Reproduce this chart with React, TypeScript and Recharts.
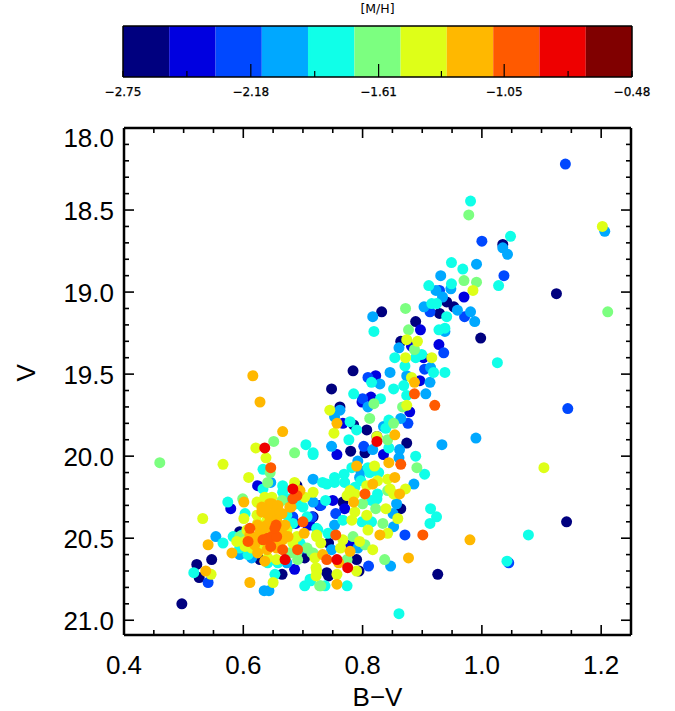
import React from 'react';
import { BarChart, Bar, Cell, ReferenceArea, ReferenceLine, ScatterChart, Scatter, XAxis, YAxis } from 'recharts';

// colour bar
const mhColors = ['#00007f', '#0000e0', '#0048ff', '#00a8ff', '#10ffe8', '#7cff80', '#deff18', '#ffb800', '#ff5a00', '#ee0000', '#800000'];
const mhEdges = [-2.75, -2.544, -2.337, -2.131, -1.925, -1.718, -1.512, -1.306, -1.099, -0.893, -0.686, -0.48];
const mhCentres = [-2.647, -2.441, -2.234, -2.028, -1.821, -1.615, -1.409, -1.202, -0.996, -0.789, -0.583];
const mhTicks = [-2.75, -2.465, -2.18, -1.895, -1.61, -1.33, -1.05, -0.765, -0.48];
const mhLabelled = [-2.75, -2.18, -1.61, -1.05, -0.48];

// axes
const bvTicks = [0.4, 0.45, 0.5, 0.55, 0.6, 0.65, 0.7, 0.75, 0.8, 0.85, 0.9, 0.95, 1.0, 1.05, 1.1, 1.15, 1.2, 1.25];
const bvLabelled = [0.4, 0.6, 0.8, 1.0, 1.2];
const vTicks = [18, 18.1, 18.2, 18.3, 18.4, 18.5, 18.6, 18.7, 18.8, 18.9, 19, 19.1, 19.2, 19.3, 19.4, 19.5, 19.6, 19.7, 19.8, 19.9, 20, 20.1, 20.2, 20.3, 20.4, 20.5, 20.6, 20.7, 20.8, 20.9, 21, 21.09];
const vLabelled = [18, 18.5, 19, 19.5, 20, 20.5, 21];

// stars by [M/H] bin, [B-V, V]
const bin0 = [[1.035,18.71],[1.125,19.01],[.941,19.06],[.953,19.09],[.929,19.13],[.998,19.28],[.832,19.12],[.889,19.18],[.864,19.30],[.784,19.48],[.748,19.59],[.762,19.70],[.785,19.81],[.807,19.84],[.874,19.92],[.78,19.97],[.804,19.98],[.767,20.28],[.864,20.32],[.717,20.37],[.743,20.53],[.79,20.63],[.794,20.70],[.74,20.71],[.743,20.73],[.926,20.72],[1.142,20.40],[.69,20.18],[.547,20.63],[.522,20.66],[.526,20.74],[.497,20.90],[.665,20.72],[.594,20.46],[.628,20.63],[.703,20.62]];
const bin1 = [[.97,19.03],[.897,19.23],[.928,19.32],[.882,19.33],[.902,19.40],[.896,19.54],[.822,19.51],[.799,19.67],[.814,19.64],[.879,19.73],[.767,19.80],[.824,19.88],[.757,19.99],[.835,19.99],[.75,20.27],[.712,20.42],[.77,20.32],[.78,20.54],[.624,20.18],[.728,20.30],[.579,20.32],[.708,20.42],[.686,20.69],[.688,20.41]];
const bin2 = [[1.14,18.22],[1.0,18.69],[1.037,18.90],[.929,18.99],[.913,19.12],[.971,19.15],[.936,19.37],[.904,19.47],[.809,19.52],[.8,19.65],[.876,19.80],[.802,19.94],[1.144,19.71],[1.045,20.65],[.73,20.30],[.755,20.35],[.871,20.48],[.81,20.67],[.541,20.77],[.683,20.37],[.715,20.37]];
const bin3 = [[1.035,18.73],[1.043,18.77],[1.206,18.63],[.991,18.83],[.931,18.90],[.948,18.98],[.923,18.99],[.934,19.03],[.903,19.09],[.959,19.11],[.981,19.12],[.988,19.18],[.938,19.24],[.817,19.15],[.861,19.34],[.914,19.46],[.846,19.49],[.874,19.51],[.913,19.55],[.829,19.56],[.906,19.62],[.809,19.70],[.762,19.72],[.753,19.76],[.835,19.82],[.864,19.77],[.748,19.94],[.862,19.96],[.817,19.96],[.792,20.03],[.861,20.01],[.797,20.09],[.795,20.13],[.717,20.14],[.933,19.93],[.99,19.89],[.886,20.17],[.717,20.28],[.857,20.29],[.851,20.35],[.852,20.43],[.753,20.42],[.792,20.56],[.748,20.57],[.847,20.67],[.646,20.16],[.554,20.49],[.635,20.82],[.643,20.82],[.594,20.60],[.614,20.62],[.673,20.65],[.703,20.56]];
const bin4 = [[.981,18.445],[1.048,18.66],[.949,18.82],[.968,18.86],[1.028,18.96],[.911,18.96],[.949,18.95],[.916,19.07],[.924,19.07],[.941,19.15],[1.026,19.43],[.819,19.24],[.928,19.23],[.938,19.22],[.854,19.40],[.889,19.40],[.899,19.38],[.871,19.45],[.919,19.49],[.938,19.49],[.815,19.55],[.869,19.57],[.852,19.59],[.785,19.62],[.874,19.63],[.83,19.65],[.779,19.79],[.844,19.78],[.839,19.83],[.79,19.84],[.777,19.90],[.844,19.95],[.889,20.0],[.717,19.99],[.809,20.07],[.827,20.10],[.782,20.07],[.769,20.11],[.753,20.13],[.904,20.11],[.733,20.16],[.74,20.17],[.753,20.16],[.77,20.16],[.738,20.27],[.797,20.15],[.787,20.19],[.812,20.10],[.825,20.23],[.824,20.26],[.815,20.27],[.767,20.39],[.799,20.40],[.815,20.40],[.725,20.45],[.742,20.47],[.913,20.41],[.914,20.32],[.924,20.37],[.713,20.76],[.737,20.79],[.774,20.79],[.861,20.96],[1.078,20.48],[1.042,20.64],[.705,19.93],[.717,19.98],[.633,20.08],[.633,20.20],[.666,20.18],[.666,20.22],[.70,20.31],[.723,20.44],[.574,20.28],[.603,20.35],[.566,20.53],[.517,20.71],[.653,20.72],[.703,20.79],[.712,20.75],[.583,20.49],[.598,20.48],[.594,20.56],[.608,20.60],[.641,20.65],[.658,20.65],[.678,20.59],[.695,20.53],[.683,20.41],[.673,20.36],[.707,20.37],[.69,20.29],[.678,20.26]];
const bin5 = [[.978,18.53],[.97,18.93],[.991,18.94],[1.211,19.12],[.872,19.10],[.877,19.23],[.887,19.35],[.819,19.68],[.867,19.70],[.812,19.77],[.852,19.80],[.842,19.90],[.891,20.07],[.842,20.21],[.80,20.29],[.822,20.32],[.834,20.41],[.784,20.49],[.804,20.54],[.715,20.59],[.837,20.63],[.774,20.63],[.73,20.79],[.46,20.04],[.651,19.91],[.686,19.98],[.645,20.10],[.641,20.16],[.599,20.26],[.728,20.79],[.691,20.63],[.678,20.59],[.69,20.59],[.673,20.45],[.707,20.56],[.717,20.59],[.665,20.27],[.594,20.49]];
const bin6 = [[1.202,18.60],[.985,18.99],[.874,19.29],[.892,19.30],[.872,19.40],[.916,19.40],[.882,19.52],[.874,19.69],[.745,19.72],[.824,19.88],[.752,19.86],[.820,20.06],[.825,20.15],[.842,20.14],[1.104,20.07],[.717,20.22],[.807,20.18],[.872,20.20],[.846,20.20],[.852,20.23],[.779,20.21],[.774,20.24],[.787,20.23],[.839,20.32],[.859,20.38],[.807,20.36],[.787,20.34],[.782,20.39],[.809,20.45],[.723,20.49],[.842,20.47],[.73,20.53],[.767,20.51],[.795,20.52],[.763,20.56],[.817,20.57],[.72,20.62],[.79,20.70],[.722,20.68],[.722,20.73],[.757,20.72],[.566,20.05],[.621,19.95],[.638,20.01],[.609,20.13],[.686,20.16],[.703,20.25],[.623,20.28],[.636,20.25],[.648,20.25],[.532,20.38],[.601,20.38],[.546,20.72],[.65,20.77],[.723,20.70],[.723,20.48],[.606,20.45],[.624,20.41],[.603,20.52],[.589,20.52],[.614,20.56],[.603,20.55],[.641,20.41],[.666,20.43],[.673,20.45],[.69,20.49],[.683,20.53],[.656,20.63],[.641,20.62],[.628,20.56],[.623,20.36],[.64,20.39]];
const bin7 = [[.887,19.55],[.757,19.80],[.854,19.87],[.844,20.04],[.79,20.06],[.854,20.13],[.817,20.17],[.862,20.23],[.785,20.28],[.829,20.48],[.779,20.58],[.733,20.60],[.877,20.62],[.76,20.65],[.757,20.78],[.98,20.51],[.616,19.51],[.628,19.67],[.666,19.85],[.695,20.21],[.68,20.31],[.644,20.29],[.656,20.31],[.631,20.34],[.665,20.35],[.648,20.37],[.64,20.35],[.601,20.28],[.702,20.47],[.541,20.54],[.537,20.70],[.611,20.77],[.636,20.64],[.581,20.59],[.628,20.46],[.636,20.43],[.623,20.49],[.616,20.52],[.675,20.49],[.624,20.59],[.656,20.56],[.64,20.57],[.665,20.47],[.648,20.29],[.658,20.30],[.631,20.31],[.65,20.35],[.661,20.35],[.64,20.42],[.631,20.46],[.624,20.49],[.636,20.51],[.65,20.52],[.666,20.51],[.648,20.45],[.624,20.42],[.611,20.48],[.645,20.39],[.656,20.39],[.67,20.42],[.636,20.33],[.619,20.54],[.678,20.31]];
const bin8 = [[.887,19.62],[.921,19.69],[.864,20.05],[.804,20.23],[.755,20.48],[.901,20.48],[.74,20.63],[.646,20.07],[.69,20.24],[.683,20.26],[.70,20.40],[.691,20.57],[.666,20.57],[.608,20.52],[.611,20.44],[.633,20.51],[.641,20.5],[.648,20.49],[.656,20.49],[.646,20.55],[.655,20.42],[.653,20.44]];
const bin9 = [[.824,19.91],[.757,20.63],[.775,20.68],[.636,19.95],[.683,20.20],[.67,20.63]];

const starBins = [bin0, bin1, bin2, bin3, bin4, bin5, bin6, bin7, bin8, bin9];

const FONT = '"Liberation Sans", sans-serif';
const barData = mhColors.map((color, i) => ({ mh: mhCentres[i], color, full: 1 }));

const hasValue = (list: number[], value: number) => list.some((item) => Math.abs(item - value) < 0.001);

const MhTick = ({ x, y, payload }: any) => {
  const major = hasValue(mhLabelled, payload.value);
  const major2 = major && Math.abs(payload.value + 2.75) > 0.001 && Math.abs(payload.value + 0.48) > 0.001;
  return (
    <g>
      <line x1={x} y1={y} x2={x} y2={y - (major2 ? 13 : 6)} stroke="#000" strokeWidth={1.2} />
      {major && (
        <text x={x} y={y + 19} textAnchor="middle" fontSize={12} stroke="#000" strokeWidth={0.25} fontFamily='"DejaVu Sans", sans-serif' fill="#000">
          {payload.value.toFixed(2).replace('-', '\u2212')}
        </text>
      )}
    </g>
  );
};

const BvTick = ({ x, y, payload }: any) => {
  const major = hasValue(bvLabelled, payload.value);
  return (
    <g>
      <line x1={x} y1={y} x2={x} y2={y - (major ? 10 : 5)} stroke="#000" strokeWidth={1.6} />
      {major && (
        <text x={x} y={y + 39} textAnchor="middle" fontSize={26} fontFamily={FONT} fill="#000">
          {payload.value.toFixed(1)}
        </text>
      )}
    </g>
  );
};

const BvTopTick = ({ x, y, payload }: any) => {
  const major = hasValue(bvLabelled, payload.value);
  return <line x1={x} y1={y} x2={x} y2={y + (major ? 10 : 5)} stroke="#000" strokeWidth={1.6} />;
};

const VTick = ({ x, y, payload }: any) => {
  const major = hasValue(vLabelled, payload.value);
  // the top label is pushed down inside the frame, as in the original plot
  const labelY = payload.value === 18 ? y + 19 : y + 10;
  return (
    <g>
      <line x1={x} y1={y} x2={x + (major ? 10 : 5)} y2={y} stroke="#000" strokeWidth={1.6} />
      {major && (
        <text x={x - 10} y={labelY} textAnchor="end" fontSize={26} fontFamily={FONT} fill="#000">
          {payload.value.toFixed(1)}
        </text>
      )}
    </g>
  );
};

const VRightTick = ({ x, y, payload }: any) => {
  const major = hasValue(vLabelled, payload.value);
  return <line x1={x} y1={y} x2={x - (major ? 10 : 5)} y2={y} stroke="#000" strokeWidth={1.6} />;
};

const Star = ({ cx, cy, fill }: any) => <circle cx={cx} cy={cy} r={5.5} fill={fill} />;

const frame = { stroke: '#000', strokeWidth: 2.5 };
const barFrame = { stroke: '#000', strokeWidth: 1.5 };

export default function App() {
  return (
    <div style={{ position: 'absolute', left: 0, top: 0, width: 675, height: 711, background: '#fff' }}>
      <div style={{ position: 'absolute', left: 0, top: 0 }}>
        <BarChart
          width={675}
          height={110}
          data={barData}
          barSize={47}
          barGap={0}
          barCategoryGap={0}
          margin={{ top: 26, right: 43, bottom: 0, left: 123 }}
        >
          <XAxis
            dataKey="mh"
            type="number"
            domain={[-2.75, -0.48]}
            ticks={mhTicks}
            interval={0}
            height={33}
            tickSize={0}
            tickMargin={0}
            tickLine={false}
            axisLine={barFrame}
            tick={MhTick}
          />
          <YAxis domain={[0, 1]} hide />
          {/* numeric-axis bars leave a gap between them, the areas close it */}
          {mhColors.map((color, i) => (
            <ReferenceArea key={color} x1={mhEdges[i]} x2={mhEdges[i + 1]} y1={0} y2={1} fill={color} fillOpacity={1} stroke="none" />
          ))}
          <Bar dataKey="full" isAnimationActive={false}>
            {barData.map((entry) => (
              <Cell key={entry.color} fill={entry.color} />
            ))}
          </Bar>
          <ReferenceLine x={-2.75} stroke="#000" strokeWidth={1.5} />
          <ReferenceLine x={-0.48} stroke="#000" strokeWidth={1.5} />
          <ReferenceLine
            y={1}
            stroke="#000"
            strokeWidth={1.5}
            label={{ value: '[M/H]', position: 'top', offset: 13, fontSize: 12.5, fontFamily: '"DejaVu Sans", sans-serif', fill: '#000' }}
          />
        </BarChart>
      </div>
      <div style={{ position: 'absolute', left: 0, top: 0 }}>
        <ScatterChart width={675} height={711} margin={{ top: 127, right: 43, bottom: 16, left: 64 }}>
          <XAxis
            xAxisId="bv"
            dataKey="bv"
            type="number"
            domain={[0.4, 1.25]}
            ticks={bvTicks}
            interval={0}
            height={60}
            tickSize={0}
            tickMargin={0}
            tickLine={false}
            axisLine={frame}
            tick={BvTick}
            label={{ value: 'B\u2212V', position: 'insideBottom', offset: -11, fontSize: 26, fontFamily: FONT, fill: '#000' }}
          />
          <XAxis
            xAxisId="bvTop"
            dataKey="bv"
            orientation="top"
            type="number"
            domain={[0.4, 1.25]}
            ticks={bvTicks}
            interval={0}
            height={1}
            tickSize={0}
            tickMargin={0}
            tickLine={false}
            axisLine={frame}
            tick={BvTopTick}
          />
          <YAxis
            yAxisId="v"
            dataKey="v"
            type="number"
            reversed
            domain={[18, 21.09]}
            ticks={vTicks}
            interval={0}
            width={60}
            tickSize={0}
            tickMargin={0}
            tickLine={false}
            axisLine={frame}
            tick={VTick}
            label={{ value: 'V', angle: -90, position: 'insideLeft', offset: -38, fontSize: 26, fontFamily: FONT, fill: '#000' }}
          />
          <YAxis
            yAxisId="vRight"
            dataKey="v"
            orientation="right"
            type="number"
            reversed
            domain={[18, 21.09]}
            ticks={vTicks}
            interval={0}
            width={1}
            tickSize={0}
            tickMargin={0}
            tickLine={false}
            axisLine={frame}
            tick={VRightTick}
          />
          {/* same stars again with no shape drawn, only keeps the top and right frame axes alive */}
          <Scatter xAxisId="bvTop" yAxisId="vRight" data={bin9.map(([bv, v]) => ({ bv, v }))} shape={() => <g />} isAnimationActive={false} />
          {starBins.map((bin, i) => (
            <Scatter
              key={mhColors[i]}
              xAxisId="bv"
              yAxisId="v"
              data={bin.map(([bv, v]) => ({ bv, v }))}
              fill={mhColors[i]}
              shape={Star}
              isAnimationActive={false}
            />
          ))}
        </ScatterChart>
      </div>
    </div>
  );
}
